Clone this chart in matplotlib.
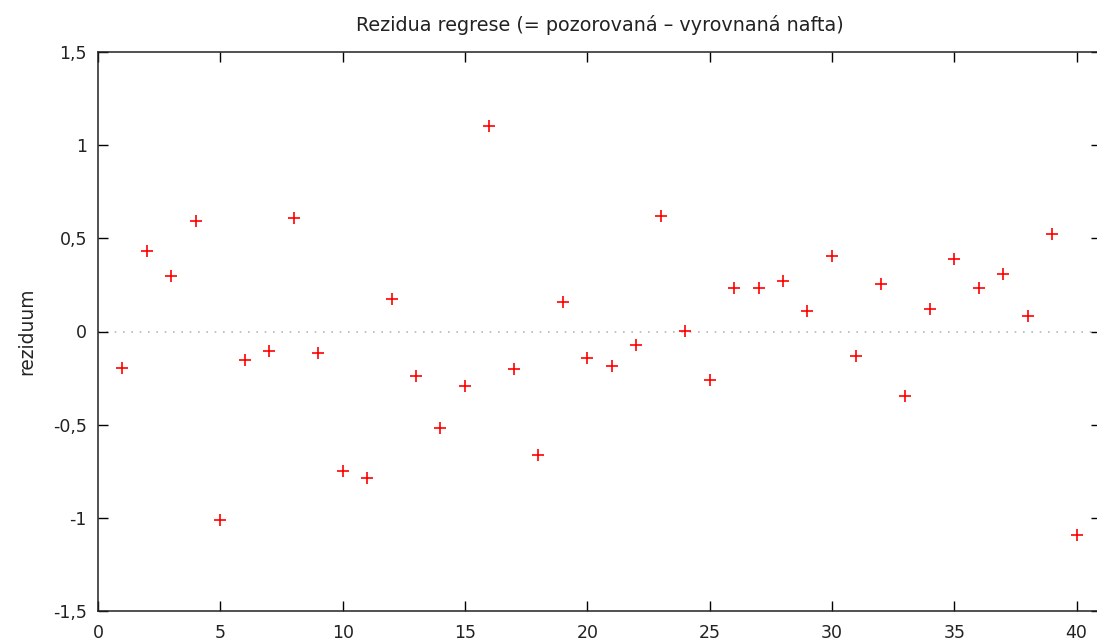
import matplotlib
matplotlib.use('Agg')
import matplotlib.pyplot as plt

# residuals of the regression, one per observation
obs = list(range(1, 41))
resid = [-0.196, 0.432, 0.298, 0.594, -1.012, -0.151, -0.106, 0.611, -0.117, -0.750,
         -0.788, 0.172, -0.241, -0.519, -0.294, 1.105, -0.203, -0.662, 0.156, -0.142,
         -0.187, -0.070, 0.622, 0.002, -0.258, 0.235, 0.235, 0.272, 0.109, 0.405,
         -0.133, 0.253, -0.348, 0.120, 0.387, 0.235, 0.308, 0.082, 0.524, -1.093]

x_ticks = [0, 5, 10, 15, 20, 25, 30, 35, 40]
y_ticks = [-1.5, -1, -0.5, 0, 0.5, 1, 1.5]
y_tick_labels = ['-1,5', '-1', '-0,5', '0', '0,5', '1', '1,5']

plt.rcParams['font.family'] = 'DejaVu Sans'
text_col = '#222222'

fig = plt.figure(figsize=(10.97, 6.42), dpi=100)
ax = fig.add_axes([98 / 1097, 31 / 642, 1003 / 1097, 559 / 642])

# dotted zero line
ax.axhline(0, color='#b8b8b8', linestyle=(0, (1, 4)), linewidth=1.2, zorder=1)

ax.plot(obs, resid, linestyle='none', marker='+', color='red',
        markersize=9, markeredgewidth=1.2, zorder=3)

ax.set_xlim(0, 41)
ax.set_ylim(-1.5, 1.5)
ax.set_xticks(x_ticks)
ax.set_yticks(y_ticks)
ax.set_yticklabels(y_tick_labels)

ax.tick_params(direction='in', length=7, width=1, top=True, right=True,
               colors='black', labelcolor=text_col, labelsize=12.5)
ax.tick_params(axis='x', pad=9.5)
ax.tick_params(axis='y', pad=8)
for sp in ax.spines.values():
    sp.set_linewidth(1.1)
    sp.set_color('#222222')

ax.set_ylabel('reziduum', color=text_col, fontsize=13.4, labelpad=12)
ax.set_title('Rezidua regrese (= pozorovaná – vyrovnaná nafta)', color=text_col,
             fontsize=13.8, pad=15)

fig.savefig('out.png', dpi=100)
